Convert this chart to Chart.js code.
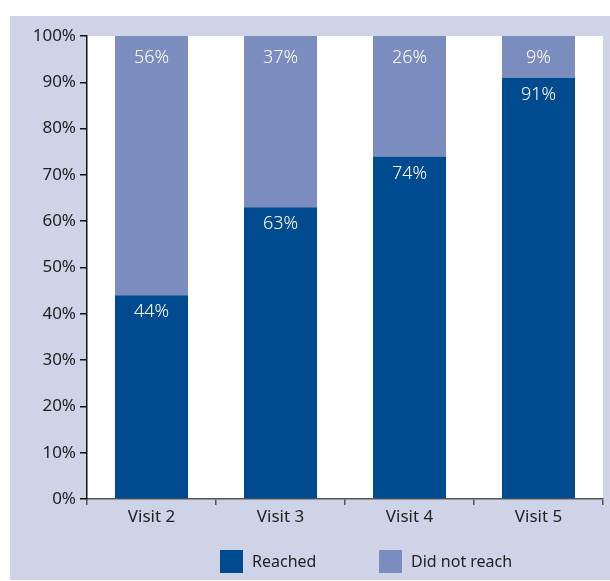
<!DOCTYPE html>
<html>
<head>
<meta charset="utf-8">
<script src="https://cdn.jsdelivr.net/npm/chart.js@4"></script>
<style>
  html, body { margin: 0; padding: 0; background: #fff; }
  canvas { display: block; }
</style>
</head>
<body>
<canvas id="chart" width="610" height="581"></canvas>
<script>
// ---- data ----
const visits = ['Visit 2', 'Visit 3', 'Visit 4', 'Visit 5'];
const reached = [44, 63, 74, 91];
const notReached = [56, 37, 26, 9];
const seriesNames = ['Reached', 'Did not reach'];
const yTicks = [0, 10, 20, 30, 40, 50, 60, 70, 80, 90, 100];

const DARK = '#004a8f';
const LIGHT = '#7b8cbe';
const PANEL = '#ced3e7';
const FONT = '"Noto Sans", "Open Sans", sans-serif';

// panel + white plot background
const backdrop = {
  id: 'backdrop',
  beforeDraw(chart) {
    const { ctx, chartArea } = chart;
    ctx.save();
    ctx.fillStyle = PANEL;
    ctx.fillRect(10, 16, 600, 564);
    ctx.fillStyle = '#fff';
    ctx.fillRect(chartArea.left, chartArea.top, chartArea.right - chartArea.left, chartArea.bottom - chartArea.top);
    ctx.restore();
  }
};

// white value labels near the top of each segment
const labelOffset = [17, 22];
const valueLabels = {
  id: 'valueLabels',
  afterDatasetsDraw(chart) {
    const { ctx } = chart;
    ctx.save();
    ctx.font = '300 18px ' + FONT;
    ctx.fillStyle = '#fff';
    ctx.textAlign = 'center';
    ctx.textBaseline = 'middle';
    chart.data.datasets.forEach((ds, i) => {
      chart.getDatasetMeta(i).data.forEach((bar, j) => {
        ctx.fillText(ds.data[j] + '%', bar.x, bar.y + labelOffset[i]);
      });
    });
    ctx.restore();
  }
};

// legend drawn under the axis
const bottomLegend = {
  id: 'bottomLegend',
  afterDraw(chart) {
    const { ctx } = chart;
    const boxX = [220, 379];
    ctx.save();
    ctx.font = '16px ' + FONT;
    ctx.textBaseline = 'middle';
    chart.data.datasets.forEach((ds, i) => {
      ctx.fillStyle = ds.backgroundColor;
      ctx.fillRect(boxX[i], 550, 23, 23);
      ctx.fillStyle = '#222';
      ctx.fillText(ds.label, boxX[i] + 32, 562);
    });
    ctx.restore();
  }
};

new Chart(document.getElementById('chart'), {
  type: 'bar',
  data: {
    labels: visits,
    datasets: [
      { label: seriesNames[0], data: reached, backgroundColor: DARK },
      { label: seriesNames[1], data: notReached, backgroundColor: LIGHT }
    ]
  },
  options: {
    responsive: false,
    animation: false,
    devicePixelRatio: 1,
    layout: { padding: { top: 36, right: 7, bottom: 38, left: 0 } },
    datasets: { bar: { categoryPercentage: 1, barPercentage: 0.566 } },
    plugins: {
      legend: { display: false },
      tooltip: { enabled: false }
    },
    scales: {
      x: {
        stacked: true,
        afterFit(scale) { scale.height = 44; },
        border: { color: '#555', width: 1.5 },
        grid: { drawOnChartArea: false, drawTicks: true, tickLength: 6, color: '#555', lineWidth: 1.5 },
        ticks: { color: '#222', font: { family: FONT, size: 17 }, padding: 2 }
      },
      y: {
        stacked: true,
        min: 0,
        max: 100,
        afterFit(scale) { scale.width = 87; },
        afterBuildTicks(scale) { scale.ticks = yTicks.map(v => ({ value: v })); },
        border: { color: '#111', width: 1.5 },
        grid: { drawOnChartArea: false, drawTicks: true, tickLength: 7, color: '#111', lineWidth: 1.5 },
        ticks: { color: '#222', font: { family: FONT, size: 17 }, padding: 4, callback: v => v + '%' }
      }
    }
  },
  plugins: [backdrop, valueLabels, bottomLegend]
});
</script>
</body>
</html>
